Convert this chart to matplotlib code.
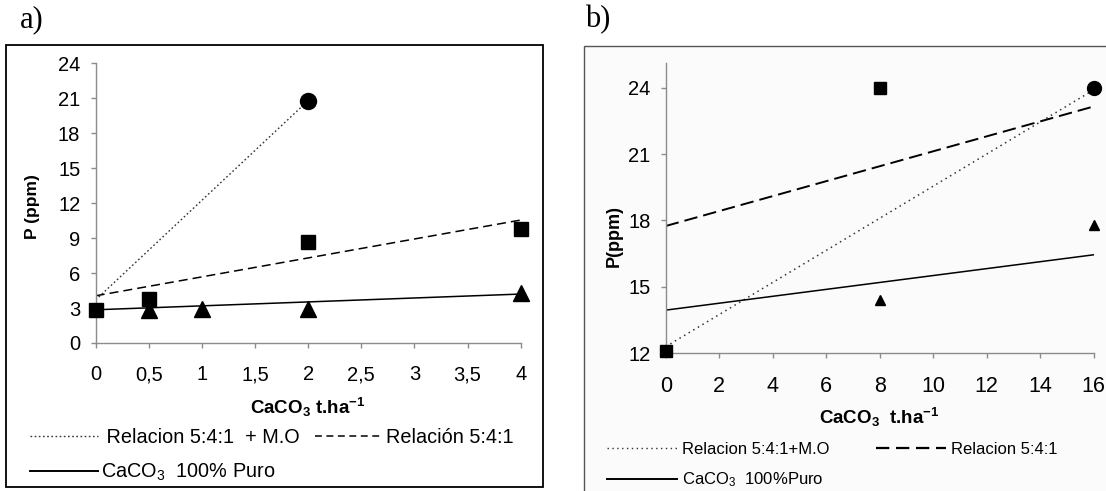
import numpy as np
import matplotlib
matplotlib.use("Agg")
import matplotlib.pyplot as plt
from matplotlib.patches import Rectangle
from matplotlib.lines import Line2D

plt.rcParams['font.family'] = ['Liberation Sans', 'DejaVu Sans']
plt.rcParams['mathtext.fontset'] = 'custom'
plt.rcParams['mathtext.rm'] = 'Liberation Sans'
plt.rcParams['mathtext.it'] = 'Liberation Sans:italic'
plt.rcParams['mathtext.bf'] = 'Liberation Sans:bold'

# ---- data, panel a ----
a_circle_x = [2]
a_circle_y = [20.8]
a_square_x = [0, 0.5, 2, 4]
a_square_y = [2.8, 3.8, 8.7, 9.8]
a_triangle_x = [0.5, 1, 2, 4]
a_triangle_y = [2.8, 2.9, 2.9, 4.3]
# trend lines (start / end)
a_mo_fit_x = [0, 2]
a_mo_fit_y = [3.7, 20.8]
a_rel_fit_x = [0, 4]
a_rel_fit_y = [4.05, 10.55]
a_puro_fit_x = [0, 4]
a_puro_fit_y = [2.85, 4.2]
a_xticks = [0, 0.5, 1, 1.5, 2, 2.5, 3, 3.5, 4]
a_xticklabels = ['0', '0,5', '1', '1,5', '2', '2,5', '3', '3,5', '4']
a_yticks = [0, 3, 6, 9, 12, 15, 18, 21, 24]

# ---- data, panel b ----
b_circle_x = [16]
b_circle_y = [24.0]
b_square_x = [0, 8]
b_square_y = [12.1, 24.0]
b_triangle_x = [8, 16]
b_triangle_y = [14.4, 17.8]
b_mo_fit_x = [0, 16]
b_mo_fit_y = [12.3, 23.9]
b_rel_fit_x = [0, 16]
b_rel_fit_y = [17.75, 23.15]
b_puro_fit_x = [0, 16]
b_puro_fit_y = [13.95, 16.45]
b_xticks = [0, 2, 4, 6, 8, 10, 12, 14, 16]
b_yticks = [12, 15, 18, 21, 24]

W, H = 1106, 491
fig = plt.figure(figsize=(W / 100, H / 100), dpi=100)


def px(x0, y0, x1, y1):
    # pixel box -> figure fraction [left, bottom, width, height]
    return [x0 / W, 1 - y1 / H, (x1 - x0) / W, (y1 - y0) / H]


# outer frames (behind the axes)
fig.patches.append(Rectangle((6 / W, 1 - 487 / H), 537 / W, 442 / H,
                             transform=fig.transFigure, facecolor='white',
                             edgecolor='black', lw=1.3, zorder=-5))
fig.patches.append(Rectangle((584 / W, -0.02), 0.5, 1 - 45.7 / H + 0.02,
                             transform=fig.transFigure, facecolor='#fbfbfb',
                             edgecolor='#555555', lw=1.0, zorder=-5))

fig.text(20 / W, 1 - 20 / H, 'a)', family='Liberation Serif', fontsize=22,
         va='center', ha='left')
fig.text(585 / W, 1 - 20 / H, 'b)', family='Liberation Serif', fontsize=22,
         va='center', ha='left')

ax_a = fig.add_axes(px(95.7, 63.3, 520.7, 343))
ax_b = fig.add_axes(px(665.7, 63.3, 1093.7, 353.3))

axis_grey = '#8c8c8c'
for ax in (ax_a, ax_b):
    ax.set_facecolor('none')
    ax.spines['top'].set_visible(False)
    ax.spines['right'].set_visible(False)
    for s in ('left', 'bottom'):
        ax.spines[s].set_color(axis_grey)
        ax.spines[s].set_linewidth(1.0)
    ax.tick_params(direction='out', length=3.6, width=1.0, color=axis_grey)

# ---- panel a ----
ax_a.plot(a_mo_fit_x, a_mo_fit_y, color='#333333', lw=1.0,
          linestyle=(0, (1.2, 1.8)))
ax_a.plot(a_rel_fit_x, a_rel_fit_y, color='black', lw=1.1,
          linestyle=(0, (5.9, 3.3)))
ax_a.plot(a_puro_fit_x, a_puro_fit_y, color='black', lw=1.1)
ax_a.plot(a_triangle_x, a_triangle_y, '^', color='black', ms=12,
          clip_on=False, zorder=4)
ax_a.plot(a_square_x, a_square_y, 's', color='black', ms=9.5,
          clip_on=False, zorder=5)
ax_a.plot(a_circle_x, a_circle_y, 'o', color='black', ms=11.5,
          clip_on=False, zorder=5)

ax_a.set_xlim(0, 4)
ax_a.set_ylim(0, 24)
ax_a.set_xticks(a_xticks)
ax_a.set_xticklabels(a_xticklabels)
ax_a.set_yticks(a_yticks)
ax_a.tick_params(axis='x', labelsize=14.5, pad=12.5)
ax_a.tick_params(axis='y', labelsize=14.5, pad=7.5)
ax_a.set_xlabel(r'CaCO$_\mathbf{3}$ t.ha$^\mathbf{-1}$', fontsize=13.5,
                fontweight='bold')
ax_a.xaxis.set_label_coords(0.5, -0.19)
ax_a.set_ylabel('P (ppm)', fontsize=12.5, fontweight='bold')
ax_a.yaxis.set_label_coords(-0.131, 0.487)

leg_a_handles = [
    Line2D([], [], color='#333333', lw=1.0, linestyle=(0, (1.2, 1.8))),
    Line2D([], [], color='black', lw=1.4),
    Line2D([], [], color='black', lw=1.1, linestyle=(0, (4.5, 3.0))),
]
leg_a_labels = [' Relacion 5:4:1  + M.O', r'CaCO$_3$  100% Puro',
                'Relación 5:4:1']
fig.legend(leg_a_handles, leg_a_labels, loc='upper left',
           bbox_to_anchor=(30 / W, 1 - 428 / H), ncol=2, frameon=False,
           fontsize=14.3, handlelength=3.4, handletextpad=0.15,
           columnspacing=0.8, labelspacing=0.75, borderpad=0,
           borderaxespad=0)

# ---- panel b ----
ax_b.plot(b_mo_fit_x, b_mo_fit_y, color='#333333', lw=1.1,
          linestyle=(0, (1.0, 2.5)))
ax_b.plot(b_rel_fit_x, b_rel_fit_y, color='black', lw=1.4,
          linestyle=(0, (6.9, 3.1)))
ax_b.plot(b_puro_fit_x, b_puro_fit_y, color='black', lw=1.1)
ax_b.plot(b_triangle_x, b_triangle_y, '^', color='black', ms=7.5,
          clip_on=False, zorder=4)
ax_b.plot(b_square_x, b_square_y, 's', color='black', ms=8.5,
          clip_on=False, zorder=5)
ax_b.plot(b_circle_x, b_circle_y, 'o', color='black', ms=10,
          clip_on=False, zorder=5)

ax_b.set_xlim(0, 16)
ax_b.set_ylim(12, 25.1)
ax_b.set_xticks(b_xticks)
ax_b.set_yticks(b_yticks)
ax_b.tick_params(axis='x', labelsize=15.5, pad=12.5)
ax_b.tick_params(axis='y', labelsize=14.5, pad=7.2)
ax_b.set_xlabel(r'CaCO$_\mathbf{3}$  t.ha$^\mathbf{-1}$', fontsize=13.5,
                fontweight='bold')
ax_b.xaxis.set_label_coords(0.5, -0.18)
ax_b.set_ylabel('P(ppm)', fontsize=13, fontweight='bold')
ax_b.yaxis.set_label_coords(-0.1005, 0.404)

leg_b_handles = [
    Line2D([], [], color='#333333', lw=1.0, linestyle=(0, (1.0, 2.5))),
    Line2D([], [], color='black', lw=1.4),
    Line2D([], [], color='black', lw=1.6, linestyle=(0, (6.0, 3.0))),
]
leg_b_labels = ['Relacion 5:4:1+M.O', r'CaCO$_3$  100%Puro',
                'Relacion 5:4:1']
fig.legend(leg_b_handles, leg_b_labels, loc='upper left',
           bbox_to_anchor=(607 / W, 1 - 442 / H), ncol=2, frameon=False,
           fontsize=12, handlelength=4.2, handletextpad=0.3,
           columnspacing=2.8, labelspacing=0.8, borderpad=0,
           borderaxespad=0)

fig.savefig('out.png', dpi=100)
